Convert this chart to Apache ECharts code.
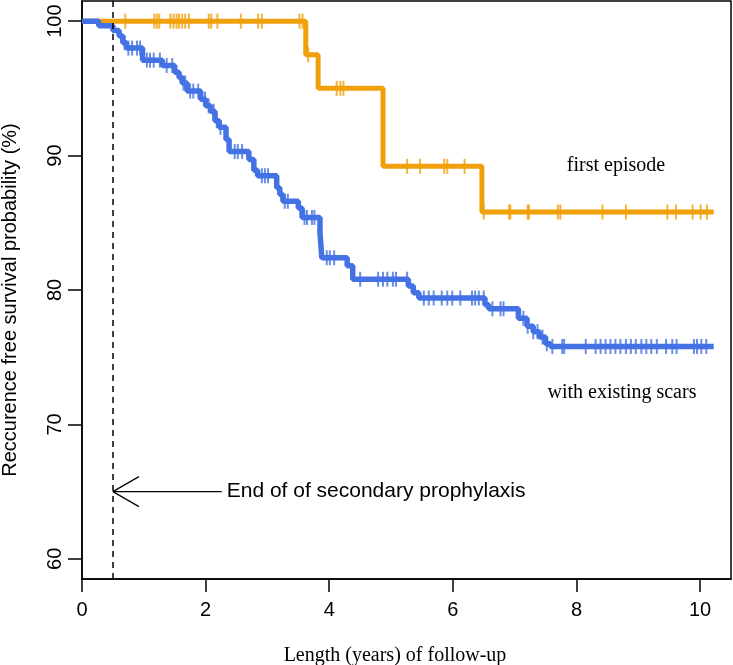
<!DOCTYPE html>
<html>
<head>
<meta charset="utf-8">
<script src="https://cdn.jsdelivr.net/npm/echarts@6/dist/echarts.min.js"></script>
<style>
html,body{margin:0;padding:0;background:#fff;}
#c{width:733px;height:665px;}
</style>
</head>
<body>
<div id="c"></div>
<script>
// ---- data ----
const xTicks = [0, 2, 4, 6, 8, 10];
const yTicks = [60, 70, 80, 90, 100];

// Kaplan-Meier steps: [time (years), survival (%)]
const firstEpisodeSteps = [
  [0, 100], [3.62, 97.5], [3.82, 95.0], [4.87, 89.2], [6.47, 85.8], [10.22, 85.8]
];
const firstEpisodeCensor = [
  0.70, 1.17, 1.21, 1.25, 1.43, 1.48, 1.53, 1.57, 1.62, 1.67, 1.73, 2.05, 2.09, 2.19,
  2.57, 2.85, 2.91, 3.52, 3.57, 3.66, 4.12, 4.18, 4.23, 5.26, 5.47, 5.86, 5.91, 6.19,
  6.50, 6.91, 6.93, 7.21, 7.23, 7.70, 7.74, 8.42, 8.80, 9.47, 9.61, 9.88, 10.01, 10.11
];

const scarsSteps = [
  [0, 100], [0.27, 99.65], [0.5, 99.3], [0.6, 98.9], [0.66, 98.4], [0.72, 98.0],
  [0.98, 97.1], [1.3, 96.7], [1.5, 96.2], [1.57, 95.8], [1.62, 95.4], [1.7, 94.8],
  [1.92, 94.2], [2.0, 93.7], [2.08, 93.3], [2.15, 92.6], [2.22, 92.1], [2.33, 91.2],
  [2.38, 90.3], [2.7, 89.7], [2.78, 88.9], [2.84, 88.5], [3.15, 87.6], [3.2, 87.1],
  [3.25, 86.6], [3.5, 86.1], [3.56, 85.4], [3.85, 84.3], [3.88, 82.4], [4.29, 81.8],
  [4.38, 80.8], [5.28, 80.3], [5.36, 79.8], [5.45, 79.4], [6.52, 78.9], [6.58, 78.6],
  [7.06, 77.9], [7.2, 77.3], [7.3, 76.9], [7.4, 76.5], [7.5, 76.0], [7.58, 75.8],
  [10.22, 75.8]
];
const scarsCensor = [
  0.69, 0.75, 0.81, 0.89, 0.94, 1.05, 1.10, 1.16, 1.26, 1.37, 1.46, 1.64, 1.67, 1.75,
  1.80, 1.88, 1.99, 2.05, 2.13, 2.18, 2.24, 2.47, 2.52, 2.59, 2.91, 2.96, 3.01, 3.28,
  3.33, 3.60, 3.64, 3.72, 3.76, 3.96, 4.01, 4.08, 4.50, 4.79, 4.87, 4.94, 5.03, 5.08,
  5.26, 5.53, 5.61, 5.69, 5.82, 5.91, 5.99, 6.12, 6.31, 6.36, 6.42, 6.50, 6.64, 6.77,
  6.82, 7.14, 7.21, 7.30, 7.37, 7.45, 7.52, 7.61, 7.77, 7.80, 8.15, 8.31, 8.39, 8.47,
  8.55, 8.63, 8.71, 8.80, 8.88, 8.96, 9.05, 9.13, 9.21, 9.30, 9.45, 9.55, 9.62, 9.90,
  9.95, 10.02, 10.10
];

const prophylaxisEnd = 0.5;        // dashed vertical line (years)
const arrowLevel = 65;             // arrow height (%)
const arrowTailX = 2.26;           // where the arrow shaft ends (years)
const arrowText = 'End of of secondary prophylaxis';

// ---- helpers ----
function survAt(steps, t) {
  let v = steps[0][1];
  for (const [x, y] of steps) if (x <= t) v = y;
  return v;
}
const censorPts = (steps, times) => times.map(t => [t, survAt(steps, t)]);

const ORANGE = '#F0A00A';
const BLUE = '#4472E4';

const chart = echarts.init(document.getElementById('c'), null, {renderer: 'canvas'});
chart.setOption({
  animation: false,
  grid: {left: 82, right: 2, top: 1, bottom: 86, show: true, borderColor: '#000', borderWidth: 1.5, backgroundColor: 'transparent'},
  xAxis: {
    type: 'value', min: 0, max: 10.5,
    axisLine: {show: true, onZero: false, lineStyle: {color: '#000', width: 1.5}},
    axisTick: {show: true, length: 13, customValues: xTicks, lineStyle: {color: '#000', width: 1.5}},
    axisLabel: {customValues: xTicks, color: '#000', fontSize: 20, fontFamily: 'Liberation Sans, Arial, sans-serif', margin: 21},
    splitLine: {show: false}
  },
  yAxis: {
    type: 'value', min: 58.5, max: 101.5,
    axisLine: {show: true, onZero: false, lineStyle: {color: '#000', width: 1.5}},
    axisTick: {show: true, length: 14, customValues: yTicks, lineStyle: {color: '#000', width: 1.5}},
    axisLabel: {customValues: yTicks, rotate: 90, color: '#000', fontSize: 20, fontFamily: 'Liberation Sans, Arial, sans-serif', margin: 17},
    splitLine: {show: false}
  },
  graphic: [
    {type: 'text', x: 10, y: 300, rotation: Math.PI / 2,
     style: {text: 'Reccurence free survival probability (%)', font: '20px "Liberation Sans", Arial, sans-serif', fill: '#000', textAlign: 'center', textVerticalAlign: 'middle'}},
    {type: 'text', x: 395, y: 656,
     style: {text: 'Length (years) of follow-up', font: '20px "Liberation Serif", serif', fill: '#000', textAlign: 'center', textVerticalAlign: 'middle'}},
    {type: 'text', x: 616, y: 166,
     style: {text: 'first episode', font: '20px "Liberation Serif", serif', fill: '#000', textAlign: 'center', textVerticalAlign: 'middle'}},
    {type: 'text', x: 622, y: 393,
     style: {text: 'with existing scars', font: '20px "Liberation Serif", serif', fill: '#000', textAlign: 'center', textVerticalAlign: 'middle'}}
  ],
  series: [
    {
      name: 'first episode', type: 'line', step: 'end', data: firstEpisodeSteps,
      showSymbol: false, lineStyle: {color: ORANGE, width: 5}, z: 2,
      markLine: {
        silent: true, symbol: ['none', 'none'], label: {show: false},
        lineStyle: {color: '#000', type: [6, 5], width: 1.5},
        data: [{xAxis: prophylaxisEnd}]
      }
    },
    {
      name: 'first episode censored', type: 'scatter', data: censorPts(firstEpisodeSteps, firstEpisodeCensor),
      symbol: 'rect', symbolSize: [2, 15], itemStyle: {color: ORANGE}, z: 3
    },
    {
      name: 'with existing scars', type: 'line', step: 'end', data: scarsSteps,
      showSymbol: false, lineStyle: {color: BLUE, width: 5.5}, z: 4
    },
    {
      name: 'scars censored', type: 'scatter', data: censorPts(scarsSteps, scarsCensor),
      symbol: 'rect', symbolSize: [2, 15], itemStyle: {color: BLUE}, z: 5
    },
    {
      name: 'arrow', type: 'custom', z: 6, silent: true,
      data: [[prophylaxisEnd, arrowLevel, arrowTailX]],
      renderItem: function (params, api) {
        const tip = api.coord([api.value(0), api.value(1)]);
        const tail = api.coord([api.value(2), api.value(1)]);
        const ls = {stroke: '#000', lineWidth: 1.2};
        return {
          type: 'group',
          children: [
            {type: 'line', shape: {x1: tip[0], y1: tip[1], x2: tail[0], y2: tail[1]}, style: ls},
            {type: 'line', shape: {x1: tip[0], y1: tip[1], x2: tip[0] + 26, y2: tip[1] - 15}, style: ls},
            {type: 'line', shape: {x1: tip[0], y1: tip[1], x2: tip[0] + 26, y2: tip[1] + 15}, style: ls},
            {type: 'text', x: tail[0] + 5, y: tail[1],
             style: {text: arrowText, font: '21px "Liberation Sans", Arial, sans-serif', fill: '#000', textAlign: 'left', textVerticalAlign: 'middle'}}
          ]
        };
      }
    }
  ]
});
</script>
</body>
</html>
